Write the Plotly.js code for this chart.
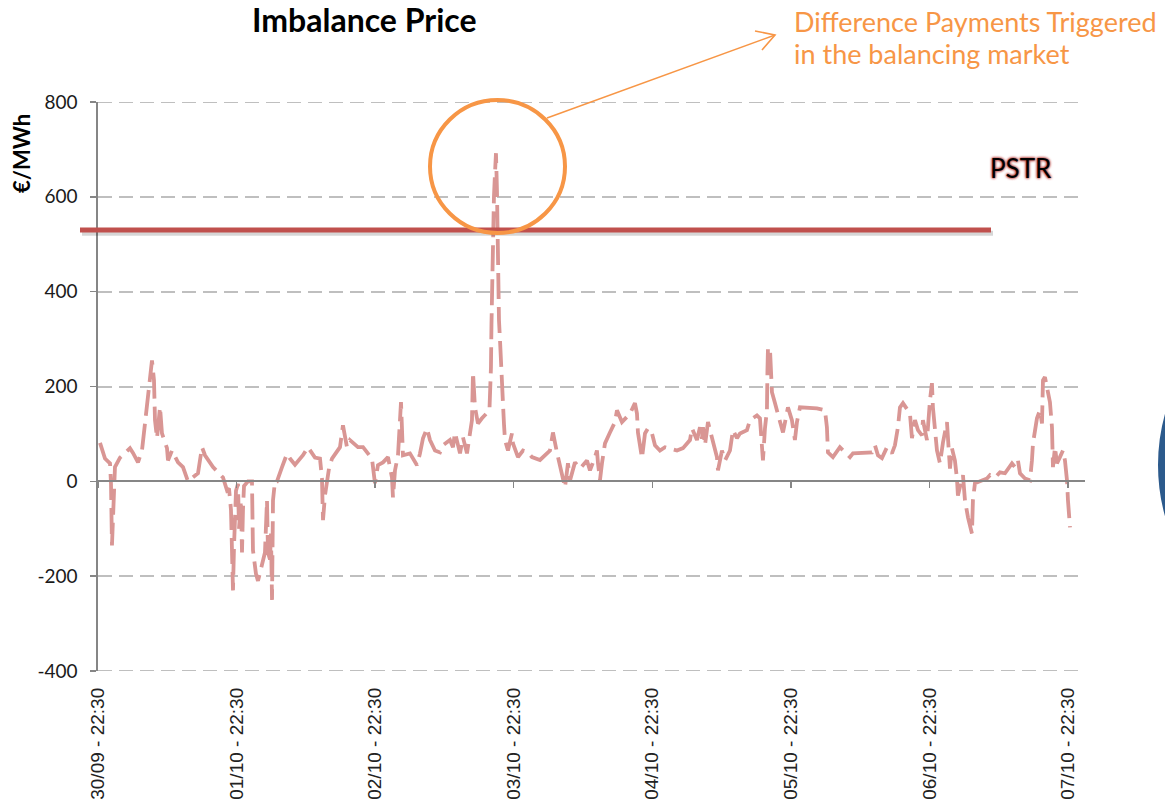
<!DOCTYPE html>
<html>
<head>
<meta charset="utf-8">
<script src="https://cdn.plot.ly/plotly-3.0.1.min.js"></script>
<style>html,body{margin:0;padding:0;background:#fff;}#chart{width:1165px;height:803px;}</style>
</head>
<body>
<div id="chart"></div>
<script>
// ---- data ----
const startTime = '2013-09-30 22:30';
// hours elapsed since 30/09 22:30
const hoursFromStart = [
0.35,1.21,2.08,2.25,2.42,2.60,2.94,3.81,4.68,5.54,6.06,6.93,7.62,8.14,8.49,9.01,9.35,9.70,9.87,10.22,
10.74,11.08,11.95,12.12,12.82,13.86,14.72,15.59,17.32,18.01,18.53,19.92,21.65,22.34,22.69,23.03,23.21,23.38,23.55,23.90,
24.25,24.42,24.77,24.94,25.11,25.29,25.98,26.67,26.84,27.36,27.71,28.23,28.92,29.27,29.44,29.79,29.96,30.14,30.31,30.65,
31.00,31.87,32.73,33.25,34.12,35.50,36.37,37.58,38.45,38.79,38.97,39.31,39.66,40.01,40.53,41.91,42.43,43.12,43.64,45.03,
45.90,46.76,47.45,47.97,48.49,49.36,50.23,50.92,51.09,51.44,51.96,52.48,52.65,52.82,54.03,55.25,55.77,56.29,56.98,57.50,
58.37,59.23,59.75,60.96,61.48,61.83,62.70,63.21,63.91,64.43,64.77,64.95,65.29,65.81,66.50,67.80,67.98,68.06,68.15,68.24,
68.32,68.41,68.58,68.76,68.93,69.10,69.19,69.28,69.36,69.45,69.62,69.80,69.97,70.14,70.32,70.49,71.01,71.70,71.87,72.74,
73.61,74.47,75.16,76.55,78.28,78.80,79.49,80.01,80.53,80.88,81.40,81.75,82.61,83.48,84.69,85.21,86.08,86.42,86.60,86.94,
87.29,87.81,88.67,89.54,89.89,90.75,92.14,93.00,93.35,93.52,94.22,94.74,95.26,95.95,96.47,97.33,98.20,100.28,101.32,102.53,
102.88,103.74,104.26,104.61,104.78,105.13,105.65,106.51,107.20,107.38,108.07,108.59,109.46,109.98,110.67,111.19,112.40,112.92,114.13,114.65,
115.17,115.52,115.86,115.95,116.04,116.38,116.56,116.73,117.25,117.77,118.46,118.64,119.50,120.19,120.71,121.06,121.58,123.31,124.52,125.91,
126.25,126.43,127.29,128.50,129.02,130.24,130.76,132.49,134.05,134.57,135.09,135.78,136.65,137.51,138.03,138.55,138.90,139.42,140.63,140.98,
141.50,142.02,142.71,142.88,143.58,144.10,144.44,144.61,144.96,145.31,145.83,146.35,147.04,147.21,147.56,147.90,148.42,148.77,148.94,149.64,
149.81,150.16,150.68,151.37,151.54,151.89,152.75,153.97,154.49,155.35,156.22,157.09,158.30,158.82,159.34,159.69,160.55,161.42,161.76,161.94,
162.63,163.15,163.50,163.67,164.01,164.36,164.88,165.23,165.40,165.75,166.09,166.61,167.13,167.48,167.83,168.00,168.35
];
// imbalance price, EUR/MWh
const imbalancePrice = [
81,48,38,-5,-135,-60,30,50,60,70,60,40,65,118,157,206,255,213,129,91,
157,101,70,44,65,40,30,0,17,72,55,30,8,-19,-15,-60,-200,-230,-140,-20,
-5,-100,-40,-150,-60,-10,0,0,-145,-195,-210,-185,-150,-40,-150,-165,-110,-250,-40,0,
0,30,58,48,35,55,72,50,48,6,-82,-30,-4,27,48,72,118,72,87,72,
72,60,48,-4,34,40,51,8,-34,23,55,167,112,55,59,34,59,91,112,87,
65,61,76,87,72,103,59,93,59,101,129,230,156,122,133,150,210,240,330,390,
460,530,600,650,692,614,530,440,375,340,300,234,207,165,120,87,65,101,80,51,
65,61,51,45,65,103,61,30,2,-13,38,2,40,27,44,23,51,65,38,2,
38,80,103,125,150,125,143,165,143,103,49,101,112,101,76,65,72,65,70,87,
112,87,114,90,114,76,125,87,51,23,65,44,65,108,91,101,108,129,139,133,
44,112,150,234,281,281,241,188,165,143,114,103,156,129,87,125,156,156,154,150,
114,61,51,72,65,51,59,61,61,76,55,49,72,59,76,114,156,165,143,91,
129,108,97,129,87,171,207,156,114,65,38,82,125,80,27,70,44,6,-30,6,
13,-40,-76,-110,-40,-4,0,6,13,8,19,17,38,30,44,17,6,2,44,80,
133,150,122,213,220,199,167,114,30,72,38,51,65,44,2,-40,-97
];
const pstrLevel = 530;
const yTickValues = [-400,-200,0,200,400,600,800];
const yTickLabels = ['-400','-200','0','200','400','600','800'];
const chartTitle = 'Imbalance Price';
const yTitle = '€/MWh';
const noteLines = ['Difference Payments Triggered', 'in the balancing market'];
const pstrLabel = 'PSTR';

// ---- build ----
const HOUR = 3600000, DAY = 86400000;
const base = new Date(startTime.replace(' ', 'T') + ':00Z').getTime();
const xTimes = hoursFromStart.map(h => base + h * HOUR);
const xRange = [base, base + 170.95 * HOUR];
const yMin = yTickValues[0], yMax = yTickValues[yTickValues.length - 1];

// pixel -> paper helpers for decorations
const L = 98, T = 102, W = 987, H = 569;
const px = x => (x - L) / W;
const py = y => (T + H - y) / H;

const orange = '#f79646';
const axisGrey = '#868686';
const gridGrey = '#bfbfbf';
const gridDash = '14px,7px';

const traces = [
  {
    x: xTimes, y: imbalancePrice, type: 'scatter', mode: 'lines',
    line: {color: '#d99694', width: 3.8, dash: '26px,8px'},
    hoverinfo: 'skip', showlegend: false
  },
  {
    x: [xTimes[0]], y: [null], xaxis: 'x2', type: 'scatter', mode: 'lines',
    hoverinfo: 'skip', showlegend: false
  }
];

const edgeGrid = [yMin, yMax].map(v => ({
  type: 'line', xref: 'paper', yref: 'y', x0: 0, x1: 1, y0: v, y1: v,
  line: {color: gridGrey, width: 2, dash: gridDash}, layer: 'below'
}));

const noteAnnotations = noteLines.map((t, i) => ({
  text: t, xref: 'paper', yref: 'paper', x: px(793), y: py(21 + i * 33),
  xanchor: 'left', yanchor: 'middle', align: 'left', showarrow: false, borderpad: 0,
  font: {family: 'Lato, sans-serif', size: 27, color: orange}
}));

const layout = {
  width: 1165, height: 803,
  margin: {l: L, r: 1165 - L - W, t: T, b: 803 - T - H, pad: 0},
  paper_bgcolor: '#ffffff', plot_bgcolor: '#ffffff',
  showlegend: false,
  font: {family: 'Lato, sans-serif', color: '#1a1a1a'},
  xaxis: {
    type: 'date', range: xRange, tick0: base, dtick: DAY,
    tickformat: '%d/%m - %H:%M', tickangle: -90,
    showgrid: false, showline: false, zeroline: false, ticks: '',
    ticklabelstandoff: 12,
    tickfont: {family: '"Liberation Sans", Arial, sans-serif', size: 19, color: '#222'}
  },
  xaxis2: {
    type: 'date', overlaying: 'x', anchor: 'free', position: 1/3, side: 'bottom',
    range: xRange, tick0: base, dtick: DAY,
    showticklabels: false, showgrid: false, zeroline: false,
    showline: true, linecolor: axisGrey, linewidth: 2,
    ticks: 'outside', ticklen: 6, tickwidth: 1.5, tickcolor: axisGrey
  },
  yaxis: {
    range: [yMin, yMax], tickvals: yTickValues, ticktext: yTickLabels,
    showgrid: true, gridcolor: gridGrey, gridwidth: 2, griddash: gridDash,
    showline: true, linecolor: axisGrey, linewidth: 1.6,
    ticks: 'outside', ticklen: 6, tickwidth: 1.5, tickcolor: axisGrey,
    zeroline: false, ticklabelstandoff: 9,
    tickfont: {family: 'Lato, sans-serif', size: 19, color: '#1a1a1a'}
  },
  shapes: edgeGrid.concat([
    // PSTR line shadow + line
    {type: 'line', xref: 'paper', yref: 'y', x0: px(82), x1: px(993), y0: pstrLevel - 7, y1: pstrLevel - 7,
     line: {color: 'rgba(0,0,0,0.16)', width: 5}, layer: 'above'},
    {type: 'line', xref: 'paper', yref: 'y', x0: px(80), x1: px(991), y0: pstrLevel, y1: pstrLevel,
     line: {color: '#c0504d', width: 5}, layer: 'above'},
    // highlight circle
    {type: 'circle', xref: 'paper', yref: 'paper', x0: px(430), x1: px(565), y0: py(233), y1: py(100),
     line: {color: orange, width: 4}, layer: 'above'},
    // arrow
    {type: 'path', xref: 'paper', yref: 'paper',
     path: `M ${px(547)},${py(118)} L ${px(775)},${py(35)}`,
     line: {color: orange, width: 1.6}, layer: 'above'},
    {type: 'path', xref: 'paper', yref: 'paper',
     path: `M ${px(755)},${py(31)} L ${px(775)},${py(35)} L ${px(762)},${py(50)}`,
     line: {color: orange, width: 1.6}, layer: 'above'},
    // partial blue disc at right edge
    {type: 'circle', xref: 'paper', yref: 'paper', x0: px(1157), x1: px(1545), y0: py(658), y1: py(272),
     fillcolor: '#2c5a8c', line: {color: '#ffffff', width: 2}, layer: 'above'}
  ]),
  annotations: [
    {text: '<b>' + chartTitle + '</b>', xref: 'paper', yref: 'paper', x: px(364), y: py(19),
     xanchor: 'center', yanchor: 'middle', showarrow: false, borderpad: 0,
     font: {family: 'Lato, sans-serif', size: 32, color: '#000'}},
    {text: '<b>' + yTitle + '</b>', xref: 'paper', yref: 'paper', x: px(21), y: py(154),
     xanchor: 'center', yanchor: 'middle', textangle: -90, showarrow: false,
     font: {family: 'Lato, sans-serif', size: 22, color: '#000'}},
    {text: pstrLabel, xref: 'paper', yref: 'paper', x: px(1021), y: py(168),
     xanchor: 'center', yanchor: 'middle', showarrow: false,
     font: {family: 'Lato, sans-serif', size: 26, color: '#000', shadow: '0 0 3px #c0504d, 0 0 3px #c0504d, 0 0 2px #c0504d'}}
  ].concat(noteAnnotations)
};

Plotly.newPlot('chart', traces, layout, {displayModeBar: false, staticPlot: true});
</script>
</body>
</html>
